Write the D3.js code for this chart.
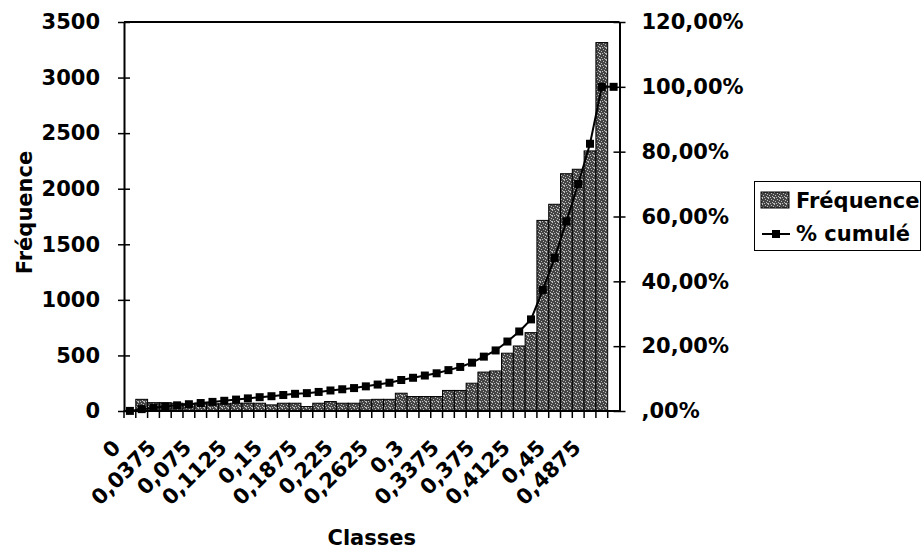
<!DOCTYPE html>
<html>
<head>
<meta charset="utf-8">
<script src="https://cdn.jsdelivr.net/npm/d3@7"></script>
<style>
	body { margin: 0; background: #fff; }
	svg text { font-family: "DejaVu Sans", sans-serif; font-weight: bold; fill: #000; }
</style>
</head>
<body>
<svg id="chart" width="921" height="554"></svg>
<script>
	// classes (bornes) de l'histogramme
	var categories = ["0","0,0125","0,025","0,0375","0,05","0,0625","0,075","0,0875","0,1","0,1125",
		"0,125","0,1375","0,15","0,1625","0,175","0,1875","0,2","0,2125","0,225","0,2375",
		"0,25","0,2625","0,275","0,2875","0,3","0,3125","0,325","0,3375","0,35","0,3625",
		"0,375","0,3875","0,4","0,4125","0,425","0,4375","0,45","0,4625","0,475","0,4875",
		"0,5","Autre"];

	var frequences = [5,105,75,75,70,65,70,65,65,70,
		70,70,55,70,70,40,70,85,70,70,
		100,105,105,160,130,130,130,185,185,250,
		350,360,520,585,705,1715,1860,2135,2175,2340,
		3315,0];

	// % cumulé (en %)
	var cumules = [0.03,0.58,0.98,1.38,1.75,2.09,2.46,2.81,3.15,3.52,
		3.89,4.26,4.56,4.93,5.30,5.51,5.88,6.33,6.70,7.07,
		7.60,8.16,8.72,9.56,10.25,10.94,11.63,12.61,13.59,14.91,
		16.77,18.68,21.43,24.53,28.26,37.35,47.21,58.52,70.04,82.44,
		100,100];

	var xLabels = ["0","0,0375","0,075","0,1125","0,15","0,1875","0,225","0,2625","0,3","0,3375","0,375","0,4125","0,45","0,4875"];
	var leftTicks = [0,500,1000,1500,2000,2500,3000,3500];
	var rightTicks = [0,20,40,60,80,100,120];

(function(){
	'use strict';

	var svg = d3.select("#chart");
	var pLeft = 124, pRight = 619.5, pTop = 22, pBottom = 411;

	// trame pointillée des barres
	var defs = svg.append("defs");
	var pat = defs.append("pattern")
		.attr("id", "stipple")
		.attr("patternUnits", "userSpaceOnUse")
		.attr("width", 6).attr("height", 6);
	pat.append("rect").attr("width", 6).attr("height", 6).attr("fill", "#454545");
	[[0,0],[3,1],[5,2],[1,3],[4,4],[2,5],[0,5],[5,5]].forEach(function(p){
		pat.append("rect").attr("x", p[0]).attr("y", p[1]).attr("width", 1).attr("height", 1).attr("fill", "#bdbdbd");
	});

	var x = d3.scaleBand().domain(categories).range([pLeft, pRight]).padding(0);
	var y = d3.scaleLinear().domain([0, 3500]).range([pBottom, pTop]);
	var y2 = d3.scaleLinear().domain([0, 120]).range([pBottom, pTop]);
	var bw = x.bandwidth();

	// barres
	svg.append("g").selectAll("rect")
		.data(frequences)
		.enter().append("rect")
			.attr("x", function(d, i){ return x(categories[i]); })
			.attr("y", function(d){ return y(d); })
			.attr("width", bw)
			.attr("height", function(d){ return pBottom - y(d); })
			.attr("fill", "url(#stipple)")
			.attr("stroke", "#000")
			.attr("stroke-width", 1);

	// cadre du haut
	svg.append("line")
		.attr("x1", pLeft).attr("x2", pRight).attr("y1", pTop).attr("y2", pTop)
		.attr("stroke", "#000").attr("stroke-width", 2);

	// axe gauche
	var yAxis = svg.append("g")
		.attr("transform", "translate(" + pLeft + ",0)")
		.call(d3.axisLeft(y).tickValues(leftTicks).tickSize(6).tickSizeOuter(0).tickPadding(18).tickFormat(d3.format("d")));
	yAxis.selectAll(".tick line").attr("x1", 6).attr("stroke-width", 1.5);
	yAxis.select(".domain").attr("stroke-width", 2);

	// axe droit
	var y2Axis = svg.append("g")
		.attr("transform", "translate(" + pRight + ",0)")
		.call(d3.axisRight(y2).tickValues(rightTicks).tickSize(6).tickSizeOuter(0).tickPadding(16)
			.tickFormat(function(d){ return d === 0 ? ",00%" : d + ",00%"; }));
	y2Axis.selectAll(".tick line").attr("x1", -6).attr("stroke-width", 1.5);
	y2Axis.select(".domain").attr("stroke-width", 2);

	yAxis.selectAll("text").style("font-size", "21px");
	y2Axis.selectAll("text").style("font-size", "21px");

	// axe des x : graduations entre classes, une étiquette sur trois
	var xAxis = svg.append("g")
		.attr("transform", "translate(0," + pBottom + ")")
		.call(d3.axisBottom(x).tickSize(7).tickSizeOuter(0)
			.tickFormat(function(d){ return xLabels.indexOf(d) >= 0 ? d : ""; }));
	xAxis.select(".domain").attr("d", "M" + pLeft + ",0H" + pRight).attr("stroke-width", 2);
	xAxis.selectAll(".tick line").attr("x1", -bw / 2).attr("x2", -bw / 2).attr("stroke-width", 1.5);
	xAxis.selectAll(".tick text")
		.style("font-size", "21px")
		.attr("text-anchor", "end")
		.attr("x", 0).attr("y", 0).attr("dy", 0)
		.attr("transform", "translate(-8,38) rotate(-45)");

	// courbe % cumulé
	var line = d3.line()
		.x(function(d, i){ return x(categories[i]) + bw / 2; })
		.y(function(d){ return y2(d); });

	svg.append("path")
		.datum(cumules)
		.attr("d", line)
		.attr("fill", "none")
		.attr("stroke", "#000")
		.attr("stroke-width", 2);

	svg.append("g").selectAll("rect")
		.data(cumules)
		.enter().append("rect")
			.attr("x", function(d, i){ return x(categories[i]) + bw / 2 - 4; })
			.attr("y", function(d){ return y2(d) - 4; })
			.attr("width", 8).attr("height", 8)
			.attr("fill", "#000");

	// titres
	svg.append("text")
		.attr("x", (pLeft + pRight) / 2).attr("y", 545)
		.attr("text-anchor", "middle")
		.style("font-size", "21px")
		.text("Classes");

	svg.append("text")
		.attr("transform", "translate(32," + ((pTop + pBottom) / 2 - 4) + ") rotate(-90)")
		.attr("text-anchor", "middle")
		.style("font-size", "21px")
		.text("Fréquence");

	// légende
	var legend = svg.append("g");
	legend.append("rect")
		.attr("x", 754.5).attr("y", 181.5).attr("width", 166).attr("height", 69)
		.attr("fill", "#fff").attr("stroke", "#000").attr("stroke-width", 1);
	legend.append("rect")
		.attr("x", 761).attr("y", 192).attr("width", 28).attr("height", 16)
		.attr("fill", "url(#stipple)").attr("stroke", "#000");
	legend.append("text").attr("x", 796).attr("y", 208).style("font-size", "21px").text("Fréquence");
	legend.append("line")
		.attr("x1", 762).attr("x2", 790).attr("y1", 234).attr("y2", 234)
		.attr("stroke", "#000").attr("stroke-width", 2);
	legend.append("rect")
		.attr("x", 772).attr("y", 230).attr("width", 8).attr("height", 8).attr("fill", "#000");
	legend.append("text").attr("x", 796).attr("y", 241).style("font-size", "21px").text("% cumulé");
})();
</script>
</body>
</html>
